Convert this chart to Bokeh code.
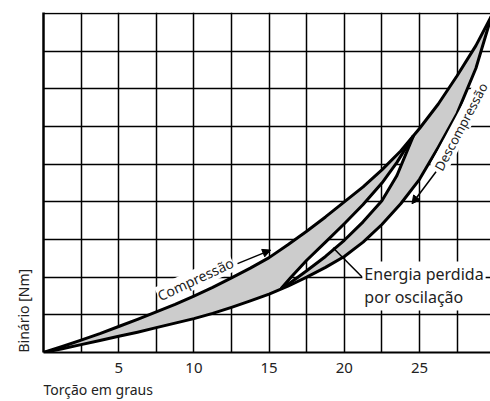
import math
from bokeh.plotting import figure
from bokeh.models import FixedTicker, Title, Label, Arrow, NormalHead, Range1d
from bokeh.embed import file_html
from bokeh.resources import INLINE

FONT = "Noto Sans"

# Torsion angle (degrees) and torque values
x_comp = [0, 1.25, 2.5, 3.75, 5, 6.25, 7.5, 8.75, 10, 11.25, 12.5, 13.75, 15,
          16.25, 17.5, 18.75, 20, 21.25, 22.5, 23.75, 25, 26.25, 27.5, 28.75, 29.8]
y_comp = [0, 0.16, 0.33, 0.5, 0.69, 0.88, 1.08, 1.28, 1.5, 1.73, 1.98, 2.24, 2.52,
          2.86, 3.22, 3.6, 4.0, 4.4, 4.85, 5.35, 5.95, 6.6, 7.35, 8.15, 8.95]

x_decomp = [0, 1.25, 2.5, 3.75, 5, 6.25, 7.5, 8.75, 10, 11.25, 12.5, 13.75, 15,
            16.25, 17.5, 18.75, 20, 21.25, 22.5, 23.75, 25, 26.25, 27.5, 28.75, 29.8]
y_decomp = [0, 0.1, 0.21, 0.32, 0.43, 0.54, 0.66, 0.78, 0.9, 1.04, 1.2, 1.37, 1.55,
            1.76, 2.0, 2.26, 2.55, 2.93, 3.4, 3.95, 4.6, 5.45, 6.35, 7.55, 8.95]

# Inner lens (energy lost by oscillation)
x_lens_top = [15.8, 16.5, 17.5, 18.75, 20, 21.25, 22.5, 23.5, 24.6]
y_lens_top = [1.7, 2.02, 2.45, 2.93, 3.42, 3.93, 4.5, 5.05, 5.76]
x_lens_bot = [15.8, 16.5, 17.5, 18.75, 20, 21.25, 22.5, 23.5, 24.6]
y_lens_bot = [1.7, 1.88, 2.17, 2.55, 2.98, 3.47, 4.03, 4.7, 5.76]

x_ticks = [5, 10, 15, 20, 25, 30]
x_grid = [2.5 * i for i in range(13)]
y_grid = [1, 2, 3, 4, 5, 6, 7, 8, 9]

p = figure(width=490, height=401, output_backend="svg", toolbar_location=None,
           x_range=Range1d(0, 29.72), y_range=Range1d(0, 9.03),
           min_border_left=43, min_border_right=0, min_border_top=12,
           min_border_bottom=49)
p.outline_line_color = None

p.xaxis.ticker = FixedTicker(ticks=x_ticks)
p.xaxis.major_tick_line_color = None
p.xaxis.minor_tick_line_color = None
p.xaxis.axis_line_width = 2
p.xaxis.axis_line_color = "black"
p.xaxis.major_label_text_font = FONT
p.xaxis.major_label_text_font_size = "15px"
p.xaxis.major_label_text_color = "#222222"
p.xaxis.major_label_standoff = 4

p.yaxis.ticker = FixedTicker(ticks=[])
p.yaxis.major_tick_line_color = None
p.yaxis.minor_tick_line_color = None
p.yaxis.axis_line_width = 2.5
p.yaxis.axis_line_color = "black"

p.xgrid.ticker = FixedTicker(ticks=x_grid)
p.ygrid.ticker = FixedTicker(ticks=y_grid)
for g in (p.xgrid, p.ygrid):
    g.grid_line_color = "black"
    g.grid_line_width = 1.5
    g.grid_line_alpha = 1.0

p.add_layout(Title(text="Torção em graus", align="left", text_font=FONT,
                   text_font_size="14px", text_font_style="normal",
                   text_color="#222222", standoff=5), "below")
p.add_layout(Title(text="Binário [Nm]", align="left", text_font=FONT,
                   text_font_size="14px", text_font_style="normal",
                   text_color="#222222", standoff=22), "left")

# Gray hysteresis area with the white lens as a hole
outer_x = x_comp + x_decomp[::-1]
outer_y = y_comp + y_decomp[::-1]
lens_x = x_lens_top + x_lens_bot[::-1]
lens_y = y_lens_top + y_lens_bot[::-1]
p.multi_polygons(xs=[[[outer_x, lens_x]]], ys=[[[outer_y, lens_y]]],
                 fill_color="#cccccc", line_color=None)

for xs, ys in ((x_comp, y_comp), (x_decomp, y_decomp),
               (x_lens_top, y_lens_top), (x_lens_bot, y_lens_bot)):
    p.line(xs, ys, line_color="black", line_width=3, line_join="round")

# Annotations
p.add_layout(Label(x=10.1, y=1.95, text="Compressão", angle=math.radians(25),
                   text_align="center", text_baseline="middle", text_font=FONT,
                   text_font_size="14px", text_color="#222222",
                   background_fill_color="white"))
p.add_layout(Arrow(x_start=12.9, y_start=2.36, x_end=15.1, y_end=2.72,
                   line_width=1.5, line_color="black",
                   end=NormalHead(size=8, fill_color="black", line_color="black")))

p.add_layout(Label(x=27.75, y=6.0, text="Descompressão", angle=math.radians(62),
                   text_align="center", text_baseline="middle", text_font=FONT,
                   text_font_size="13px", text_color="#222222",
                   background_fill_color="white"))
p.add_layout(Arrow(x_start=26.1, y_start=4.8, x_end=24.5, y_end=3.95,
                   line_width=1.5, line_color="black",
                   end=NormalHead(size=8, fill_color="black", line_color="black")))

p.add_layout(Label(x=21.2, y=2.42, text="Energia perdida\npor oscilação",
                   text_align="left", text_baseline="top", text_font=FONT,
                   text_font_size="16px", text_color="#222222",
                   text_line_height=1.05,
                   background_fill_color="white", padding=2))
p.line([21.2, 19.25], [2.0, 2.78], line_color="black", line_width=1.5)

p.add_layout(Label(x=30, y=-0.4, text="30", text_align="center",
                   text_baseline="middle", text_font=FONT,
                   text_font_size="15px", text_color="#222222"))

open("out.html", "w").write(file_html(p, INLINE))
